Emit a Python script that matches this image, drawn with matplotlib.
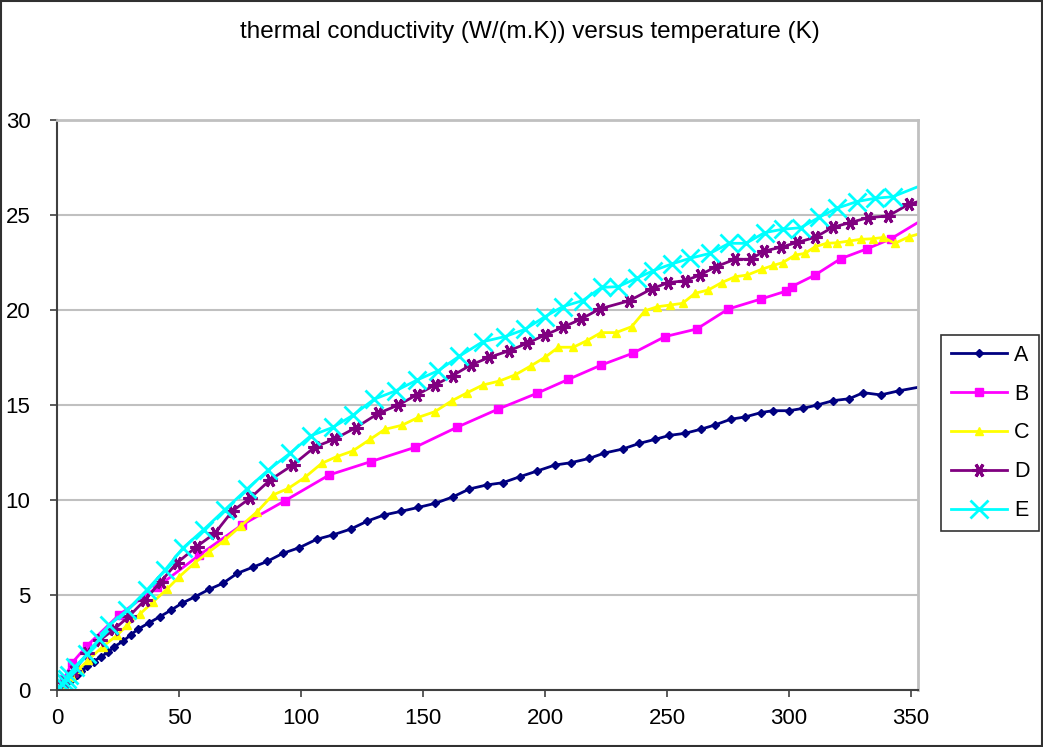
import numpy as np
import matplotlib.pyplot as plt
from matplotlib.patches import Rectangle

plt.rcParams['font.family'] = ['Liberation Sans', 'DejaVu Sans']

# temperature (K) and conductivity (W/(m.K))
t_a = [0, 2, 4, 6, 8, 10, 12.5, 15, 18, 21, 23.5, 27.2, 30.3, 33.3, 37.8, 42.2, 46.7, 51.1,
       56.6, 62.4, 67.9, 73.9, 80.2, 86.2, 92.5, 99.3, 106.4, 113, 120.4, 127.2, 134, 140.9,
       148.1, 154.9, 162.2, 169, 176.1, 182.7, 189.8, 196.9, 204.1, 210.5, 218.2, 224.3,
       231.8, 238.7, 245.1, 251, 257.4, 263.8, 269.7, 276.1, 282, 288.6, 293.3, 300.1,
       305.6, 311.6, 318.2, 324.7, 330.5, 337.6, 345.2, 358]
k_a = [0, 0.2, 0.4, 0.6, 0.8, 1.0, 1.25, 1.5, 1.75, 2.0, 2.28, 2.58, 2.91, 3.21, 3.54, 3.86, 4.2, 4.56,
       4.91, 5.3, 5.61, 6.14, 6.46, 6.77, 7.19, 7.49, 7.93, 8.16, 8.47, 8.89, 9.21, 9.4,
       9.61, 9.82, 10.16, 10.58, 10.79, 10.91, 11.23, 11.53, 11.84, 11.96, 12.19, 12.47,
       12.68, 12.98, 13.19, 13.4, 13.51, 13.72, 13.95, 14.25, 14.37, 14.6, 14.7, 14.7,
       14.82, 15.0, 15.23, 15.33, 15.65, 15.53, 15.75, 16.05]

t_b = [0, 3, 6, 12.2, 25.4, 40.9, 58.1, 75.7, 93.4, 111.6, 128.6, 146.7, 163.8, 180.9,
       196.6, 209.6, 223, 235.9, 249.2, 262.2, 275.1, 288.6, 299, 301.1, 310.7, 321.2,
       331.8, 341.7, 356]
k_b = [0, 0.6, 1.4, 2.32, 3.95, 5.4, 7.08, 8.68, 9.96, 11.32, 12.02, 12.77, 13.82, 14.79,
       15.61, 16.35, 17.1, 17.72, 18.6, 19.0, 20.05, 20.58, 21.0, 21.23, 21.84, 22.7,
       23.21, 23.74, 24.85]

t_c = [0, 3, 6, 9, 12.8, 18.7, 24.7, 28.8, 34, 39.5, 45, 50.1, 56.5, 62.4, 68.9, 75.3,
       82.1, 88.4, 94.8, 101.6, 108.5, 114.6, 121.2, 128.3, 134.4, 141.3, 148.1, 154.9,
       161.8, 168.2, 174.5, 181.3, 187.7, 194.1, 200, 205.5, 211.6, 217.1, 223, 229.1,
       235.5, 241, 246, 251.2, 256.4, 261.5, 266.9, 272.4, 277.9, 282.9, 288.8, 293.6,
       297.4, 302.5, 306.6, 310.7, 315.4, 319.8, 324.7, 329.4, 334.3, 338.7, 343.4,
       349.3, 356]
k_c = [0, 0.3, 0.7, 1.1, 1.58, 2.28, 2.89, 3.42, 4.0, 4.65, 5.3, 5.96, 6.7, 7.28, 7.9, 8.63,
       9.39, 10.26, 10.61, 11.19, 11.93, 12.28, 12.58, 13.19, 13.72, 13.93, 14.35, 14.65,
       15.22, 15.65, 16.05, 16.26, 16.58, 17.05, 17.51, 18.04, 18.04, 18.38, 18.81, 18.81,
       19.12, 19.96, 20.17, 20.26, 20.35, 20.88, 21.05, 21.44, 21.75, 21.84, 22.14, 22.35,
       22.49, 22.89, 22.98, 23.33, 23.51, 23.54, 23.63, 23.72, 23.75, 23.82, 23.51,
       23.86, 24.1]

t_d = [0, 3, 7, 12.4, 17.6, 23.4, 29.6, 36.1, 42.5, 49, 57.2, 64.7, 71.9, 79.1, 87.3,
       96.6, 105.7, 113.5, 122.5, 131.7, 139.9, 147.4, 154.9, 162.2, 169.5, 177.2, 185.4,
       192.7, 200, 207.3, 214.6, 222.5, 234.6, 243.7, 250.5, 257.4, 263.5, 270.1, 277.9,
       284.3, 289.8, 296.6, 303.4, 310.7, 317.9, 325, 332.5, 340.7, 349.3, 356]
k_d = [0, 0.4, 1.0, 1.93, 2.63, 3.19, 3.89, 4.74, 5.7, 6.67, 7.54, 8.25, 9.42, 10.09, 11.05,
       11.84, 12.79, 13.19, 13.81, 14.56, 15.0, 15.53, 16.05, 16.55, 17.1, 17.51, 17.86,
       18.25, 18.68, 19.09, 19.51, 20.06, 20.49, 21.11, 21.44, 21.54, 21.84, 22.28, 22.67,
       22.67, 23.1, 23.3, 23.56, 23.82, 24.35, 24.6, 24.86, 24.95, 25.58, 25.8]

t_e = [0, 1, 2, 3, 4, 5, 7.4, 12.4, 17.3, 21.4, 28.8, 36.8, 44.3, 51.5, 60.1, 68.9, 77.7,
       86.6, 95.5, 104, 113, 121.4, 129.9, 138.9, 147.7, 156.3, 164.8, 174.5, 183.6, 191.8,
       200, 207.3, 215.4, 223.2, 230, 237.6, 244.4, 251.9, 259.4, 267.6, 275.5, 282.4,
       290, 297.4, 304.8, 312.4, 319.5, 327.7, 335.2, 342.5, 358]
k_e = [0, 0.15, 0.3, 0.45, 0.6, 0.8, 1.23, 1.89, 2.67, 3.42, 4.21, 5.26, 6.32, 7.46, 8.44,
       9.5, 10.56, 11.58, 12.46, 13.38, 13.82, 14.47, 15.3, 15.75, 16.32, 16.81, 17.56,
       18.33, 18.6, 18.98, 19.65, 20.18, 20.49, 21.19, 21.23, 21.67, 22.07, 22.42, 22.72,
       22.98, 23.51, 23.51, 24.07, 24.25, 24.33, 24.88, 25.35, 25.7, 25.88, 25.96, 26.75]

fig = plt.figure(figsize=(10.43, 7.47), dpi=100)
ax = fig.add_axes([57 / 1043, 57 / 747, 861 / 1043, 570 / 747])

ax.plot(t_a, k_a, color='#000080', lw=2, marker='D', ms=4, label='A')
ax.plot(t_b, k_b, color='#FF00FF', lw=2, marker='s', ms=5.5, label='B')
ax.plot(t_c, k_c, color='#FFFF00', lw=2, marker='^', ms=6, label='C')
ax.plot(t_d, k_d, color='#800080', lw=2, marker=(6, 2, 90), ms=10, mew=2.2, label='D')
ax.plot(t_e, k_e, color='#00FFFF', lw=2, marker='x', ms=13, mew=2, label='E')

ax.set_xlim(0, 352.9)
ax.set_ylim(0, 30)
ax.set_xticks(range(0, 351, 50))
ax.set_yticks(range(0, 31, 5))
ax.grid(axis='y', color='#c0c0c0', lw=1.5)
ax.set_axisbelow(True)
for side in ['top', 'right']:
    ax.spines[side].set_color('#c0c0c0')
    ax.spines[side].set_linewidth(2)
for side in ['left', 'bottom']:
    ax.spines[side].set_color('#404040')
    ax.spines[side].set_linewidth(1.5)
ax.tick_params(direction='out', length=5, width=1.2, labelsize=16, color='#404040')
ax.tick_params(axis='y', pad=14)
ax.tick_params(axis='x', pad=8)

fig.text(529.5 / 1043, 1 - 32 / 747, 'thermal conductivity (W/(m.K)) versus temperature (K)',
         fontsize=17.5, ha='center', va='center')

leg = ax.legend(loc='center left', bbox_to_anchor=(1 + 23 / 861, 0.451), fontsize=15.5,
                frameon=True, fancybox=False, edgecolor='black', handlelength=2.6,
                handletextpad=0.35, labelspacing=0.83, borderpad=0.45, borderaxespad=0)
leg.get_frame().set_linewidth(1.2)

fig.patches.append(Rectangle((0.001, 0.001), 0.998, 0.998, transform=fig.transFigure,
                             fill=False, edgecolor='#303030', lw=1.5))

fig.savefig('out.png', dpi=100)
